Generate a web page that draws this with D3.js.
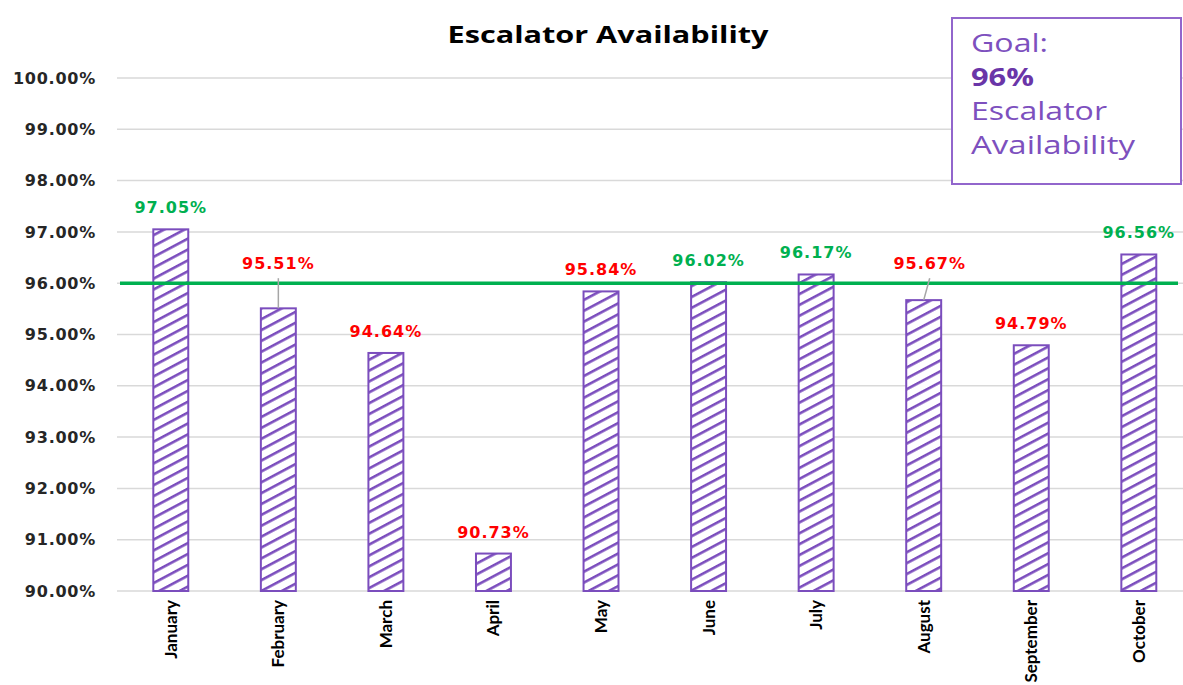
<!DOCTYPE html>
<html>
<head>
<meta charset="utf-8">
<script src="https://cdn.jsdelivr.net/npm/d3@7"></script>
<style>
  html, body { margin: 0; padding: 0; background: #fff; }
  #chart-escalator { width: 1183px; height: 685px; }
</style>
</head>
<body>
<div id="chart-escalator"></div>
<script>
// Escalator availability by month, D3 v7

const months = ["January", "February", "March", "April", "May", "June",
                "July", "August", "September", "October"];
const availability = [97.05, 95.51, 94.64, 90.73, 95.84, 96.02, 96.17, 95.67, 94.79, 96.56];
const goal = 96;
const yTicks = [90, 91, 92, 93, 94, 95, 96, 97, 98, 99, 100];
const legendLines = ["Goal:", "96%", "Escalator", "Availability"];
// labels that Excel moved up and tied to the bar with a leader line
const raisedLabels = ["February", "August"];

function renderEscalator(containerId) {
  const container = d3.select(`#${containerId}`);
  container.selectAll("*").remove();

  const width = 1183;
  const height = 685;
  const purple = "#7b4dbd";
  const green = "#00b050";
  const red = "#ff0000";

  const svg = container.append("svg")
    .attr("width", width)
    .attr("height", height);

  // diagonal hatch for the bars
  svg.append("defs").append("pattern")
    .attr("id", "hatch")
    .attr("patternUnits", "userSpaceOnUse")
    .attr("width", 10)
    .attr("height", 9.6)
    .attr("patternTransform", "rotate(-28)")
    .append("rect")
    .attr("width", 10)
    .attr("height", 2.6)
    .attr("fill", purple);

  const x = d3.scaleBand()
    .domain(months)
    .range([117, 1192.6])
    .paddingInner(0.675)
    .paddingOuter(0.3375);

  const y = d3.scaleLinear()
    .domain([90, 100])
    .range([591, 78]);

  // gridlines
  svg.append("g")
    .selectAll("line")
    .data(yTicks)
    .join("line")
    .attr("x1", 117)
    .attr("x2", width)
    .attr("y1", d => y(d))
    .attr("y2", d => y(d))
    .attr("stroke", "#d9d9d9")
    .attr("stroke-width", 1.5);

  // y axis labels
  const yAxis = d3.axisLeft(y)
    .tickValues(yTicks)
    .tickSize(0)
    .tickPadding(0)
    .tickFormat(d => d3.format(".2f")(d) + "%");

  const gy = svg.append("g")
    .attr("transform", "translate(96,0)")
    .call(yAxis);
  gy.select(".domain").remove();
  gy.selectAll("text")
    .attr("fill", "#262626")
    .style("font-family", "'DejaVu Sans', sans-serif")
    .style("font-weight", "bold")
    .style("font-size", "16px")
    .style("letter-spacing", "0.75px");

  const rows = months.map((m, i) => ({ month: m, value: availability[i] }));

  // bars
  const bars = svg.append("g");
  bars.selectAll("rect.bg")
    .data(rows)
    .join("rect")
    .attr("class", "bg")
    .attr("x", d => x(d.month))
    .attr("y", d => y(d.value))
    .attr("width", x.bandwidth())
    .attr("height", d => y(90) - y(d.value))
    .attr("fill", "#fff");
  bars.selectAll("rect.bar")
    .data(rows)
    .join("rect")
    .attr("class", "bar")
    .attr("x", d => x(d.month))
    .attr("y", d => y(d.value))
    .attr("width", x.bandwidth())
    .attr("height", d => y(90) - y(d.value))
    .attr("fill", "url(#hatch)")
    .attr("stroke", purple)
    .attr("stroke-width", 2);

  // goal line
  svg.append("line")
    .attr("x1", 120)
    .attr("x2", 1178)
    .attr("y1", y(goal))
    .attr("y2", y(goal))
    .attr("stroke", green)
    .attr("stroke-width", 3.5);

  // data labels
  const cx = d => x(d.month) + x.bandwidth() / 2;
  const labelDx = d => (d.month === "August" ? 6 : 0);
  const labelY = d => raisedLabels.includes(d.month) ? y(goal) - 14 : y(d.value) - 16;

  svg.append("g")
    .selectAll("line")
    .data(rows.filter(d => raisedLabels.includes(d.month)))
    .join("line")
    .attr("x1", d => cx(d) + labelDx(d))
    .attr("y1", d => labelY(d) + 9)
    .attr("x2", cx)
    .attr("y2", d => y(d.value))
    .attr("stroke", "#a6a6a6")
    .attr("stroke-width", 1.5);

  svg.append("g")
    .selectAll("text")
    .data(rows)
    .join("text")
    .attr("x", d => cx(d) + labelDx(d))
    .attr("y", labelY)
    .attr("text-anchor", "middle")
    .attr("fill", d => (d.value >= goal ? green : red))
    .style("font-family", "'DejaVu Sans', sans-serif")
    .style("font-weight", "bold")
    .style("font-size", "16px")
    .style("letter-spacing", "1px")
    .text(d => d3.format(".2f")(d.value) + "%");

  // x labels, rotated
  const xAxis = d3.axisBottom(x).tickSize(0).tickPadding(0);
  const gx = svg.append("g")
    .attr("transform", `translate(0,${y(90)})`)
    .call(xAxis);
  gx.select(".domain").remove();
  gx.selectAll("text")
    .attr("transform", "translate(0,9) rotate(-90)")
    .attr("text-anchor", "end")
    .attr("x", 0)
    .attr("y", 0)
    .attr("dy", "0.35em")
    .attr("fill", "#000")
    .style("font-family", "Lato, sans-serif")
    .style("font-weight", "bold")
    .style("font-size", "17px");

  // title
  svg.append("text")
    .attr("x", 608)
    .attr("y", 43)
    .attr("text-anchor", "middle")
    .attr("textLength", 321)
    .attr("lengthAdjust", "spacingAndGlyphs")
    .attr("fill", "#000")
    .style("font-family", "'Open Sans', sans-serif")
    .style("font-weight", "bold")
    .style("font-size", "23px")
    .text("Escalator Availability");

  // goal box
  const box = svg.append("g");
  box.append("rect")
    .attr("x", 952)
    .attr("y", 18)
    .attr("width", 229)
    .attr("height", 166)
    .attr("fill", "#fff")
    .attr("stroke", "#9266cc")
    .attr("stroke-width", 2);

  const lineWidths = [77, 63, 136, 164];
  box.selectAll("text")
    .data(legendLines)
    .join("text")
    .attr("x", 971)
    .attr("y", (d, i) => 52 + i * 34)
    .attr("textLength", (d, i) => lineWidths[i])
    .attr("lengthAdjust", "spacingAndGlyphs")
    .attr("fill", (d, i) => (i === 1 ? "#6a35a8" : "#7d50be"))
    .style("font-family", "'Open Sans', sans-serif")
    .style("font-weight", (d, i) => (i === 1 ? "bold" : "normal"))
    .style("font-size", "25px")
    .text(d => d);
}

document.addEventListener("DOMContentLoaded", () => {
  renderEscalator("chart-escalator");
});
</script>
</body>
</html>
